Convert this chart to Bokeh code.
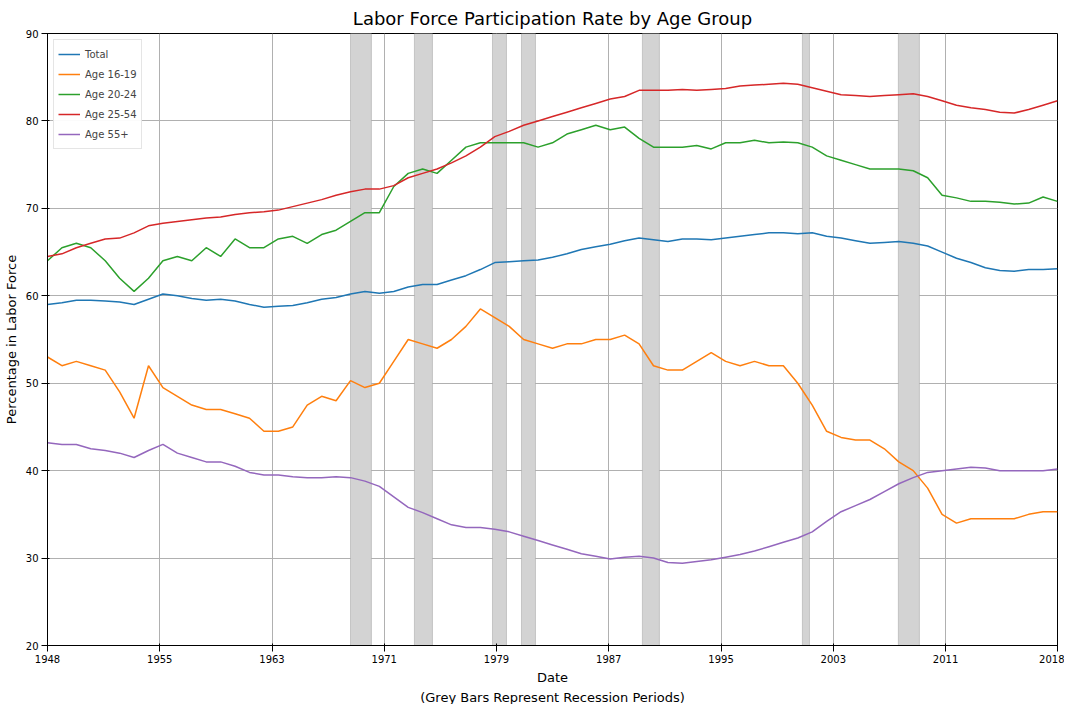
import numpy as np
from bokeh.plotting import figure
from bokeh.models import FixedTicker, Legend, LegendItem, Title, Range1d
from bokeh.embed import file_html
from bokeh.resources import INLINE

years = list(range(1948, 2019))

total = [59.0,59.2,59.5,59.5,59.4,59.3,59.0,59.6,60.2,60.0,
         59.7,59.5,59.6,59.4,59.0,58.7,58.8,58.9,59.2,59.6,
         59.8,60.2,60.5,60.3,60.5,61.0,61.3,61.3,61.8,62.3,
         63.0,63.8,63.9,64.0,64.1,64.4,64.8,65.3,65.6,65.9,
         66.3,66.6,66.4,66.2,66.5,66.5,66.4,66.6,66.8,67.0,
         67.2,67.2,67.1,67.2,66.8,66.6,66.3,66.0,66.1,66.2,
         66.0,65.7,65.0,64.3,63.8,63.2,62.9,62.8,63.0,63.0,63.1]
age_16_19 = [53.0,52.0,52.5,52.0,51.5,49.0,46.0,52.0,49.5,48.5,
             47.5,47.0,47.0,46.5,46.0,44.5,44.5,45.0,47.5,48.5,
             48.0,50.3,49.5,50.0,52.5,55.0,54.5,54.0,55.0,56.5,
             58.5,57.5,56.5,55.0,54.5,54.0,54.5,54.5,55.0,55.0,
             55.5,54.5,52.0,51.5,51.5,52.5,53.5,52.5,52.0,52.5,
             52.0,52.0,50.0,47.5,44.5,43.8,43.5,43.5,42.5,41.0,
             40.0,38.0,35.0,34.0,34.5,34.5,34.5,34.5,35.0,35.3,35.3]
age_20_24 = [64.0,65.5,66.0,65.5,64.0,62.0,60.5,62.0,64.0,64.5,
             64.0,65.5,64.5,66.5,65.5,65.5,66.5,66.8,66.0,67.0,
             67.5,68.5,69.5,69.5,72.5,74.0,74.5,74.0,75.5,77.0,
             77.5,77.5,77.5,77.5,77.0,77.5,78.5,79.0,79.5,79.0,
             79.3,78.0,77.0,77.0,77.0,77.2,76.8,77.5,77.5,77.8,
             77.5,77.6,77.5,77.0,76.0,75.5,75.0,74.5,74.5,74.5,
             74.3,73.5,71.5,71.2,70.8,70.8,70.7,70.5,70.6,71.3,70.8]
age_25_54 = [64.5,64.8,65.5,66.0,66.5,66.6,67.2,68.0,68.3,68.5,
             68.7,68.9,69.0,69.3,69.5,69.6,69.8,70.2,70.6,71.0,
             71.5,71.9,72.2,72.2,72.6,73.5,74.0,74.5,75.2,76.0,
             77.0,78.2,78.8,79.5,80.0,80.5,81.0,81.5,82.0,82.5,
             82.8,83.5,83.5,83.5,83.6,83.5,83.6,83.7,84.0,84.1,
             84.2,84.3,84.2,83.8,83.4,83.0,82.9,82.8,82.9,83.0,
             83.1,82.8,82.3,81.8,81.5,81.3,81.0,80.9,81.3,81.8,82.3]
age_55 = [43.2,43.0,43.0,42.5,42.3,42.0,41.5,42.3,43.0,42.0,
          41.5,41.0,41.0,40.5,39.8,39.5,39.5,39.3,39.2,39.2,
          39.3,39.2,38.8,38.2,37.0,35.8,35.2,34.5,33.8,33.5,
          33.5,33.3,33.0,32.5,32.0,31.5,31.0,30.5,30.2,29.9,
          30.1,30.2,30.0,29.5,29.4,29.6,29.8,30.1,30.4,30.8,
          31.3,31.8,32.3,33.0,34.2,35.3,36.0,36.7,37.6,38.5,
          39.2,39.8,40.0,40.2,40.4,40.3,40.0,40.0,40.0,40.0,40.2]

rec_start = [1969.0, 1973.43, 1978.84, 1980.85, 1989.23, 2000.32, 2006.97]
rec_end = [1970.45, 1974.68, 1979.81, 1981.82, 1990.41, 2000.81, 2008.43]

tick_pos = [1948 + k * 7.78 for k in range(9)] + [2018]
tick_labels = ["1948", "1955", "1963", "1971", "1979", "1987", "1995", "2003", "2011", "2018"]

series = [("Total", total, "#1f77b4"), ("Age 16-19", age_16_19, "#ff7f0e"),
          ("Age 20-24", age_20_24, "#2ca02c"), ("Age 25-54", age_25_54, "#d62728"),
          ("Age 55+", age_55, "#9467bd")]

p = figure(width=1064, height=704, output_backend="svg", toolbar_location=None,
           x_range=Range1d(1948, 2018), y_range=Range1d(20, 90),
           min_border_left=40, min_border_right=7, min_border_top=28, min_border_bottom=0)
p.title.text = "Labor Force Participation Rate by Age Group"
p.title.align = "center"
p.title.text_font = "DejaVu Sans"
p.title.text_font_size = "18px"
p.title.text_font_style = "normal"
p.title.text_color = "black"

p.quad(left=rec_start, right=rec_end, bottom=20, top=90, color="#d3d3d3", line_color="#a0a0a0", line_width=0.5)

items = []
for name, vals, col in series:
    r = p.line(years, vals, line_color=col, line_width=1.5)
    items.append(LegendItem(label=name, renderers=[r]))

leg = Legend(items=items, location="top_left", label_text_font_size="10px",
             label_text_font="DejaVu Sans", glyph_width=22, label_height=10,
             spacing=0, padding=4, border_line_color="#cccccc", margin=6)
p.add_layout(leg)

p.xaxis.ticker = FixedTicker(ticks=tick_pos)
p.xaxis.major_label_overrides = {t: l for t, l in zip(tick_pos, tick_labels)}
p.yaxis.ticker = FixedTicker(ticks=list(range(20, 91, 10)))
p.xaxis.axis_label = "Date"
p.yaxis.axis_label = "Percentage in Labor Force"
for ax in (p.xaxis, p.yaxis):
    ax.axis_label_text_font = "DejaVu Sans"
    ax.axis_label_text_font_style = "normal"
    ax.axis_label_text_font_size = "13px"
    ax.axis_label_text_color = "black"
    ax.major_label_text_font = "DejaVu Sans"
    ax.major_label_text_font_size = "10px"
    ax.major_label_text_color = "black"
    ax.minor_tick_line_color = None
    ax.axis_label_standoff = 4
    ax.major_label_standoff = 3
p.add_layout(Title(text="(Grey Bars Represent Recession Periods)", align="center",
                   text_font="DejaVu Sans", text_font_size="13px", text_font_style="normal",
                   text_color="black", offset=0, standoff=0), "below")
p.grid.grid_line_color = "#b0b0b0"
p.grid.grid_line_alpha = 1.0
p.outline_line_color = "black"

open("out.html", "w").write(file_html(p, INLINE))
